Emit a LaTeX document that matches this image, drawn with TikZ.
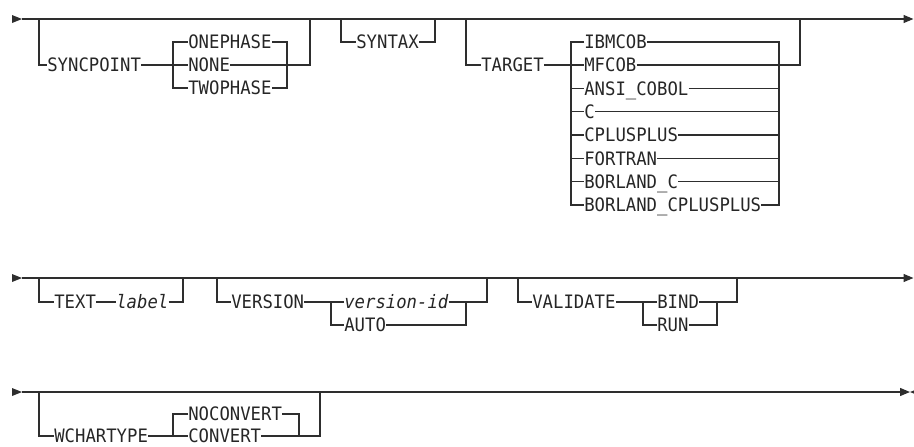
\documentclass[tikz,border=0pt]{standalone}
\usepackage{fontspec}
\newfontfamily\railfont[FakeStretch=0.934]{DejaVu Sans Mono}
\usetikzlibrary{arrows.meta}
\begin{document}
\begin{tikzpicture}[x=1pt,y=-1pt,
  rail/.style={draw=black!82, line width=1.25pt},
  endarrow/.style={rail,-{Triangle[length=10pt,width=8pt]}},
  head/.style={fill=black!82},
  kw/.style={anchor=west, inner sep=0pt, inner xsep=0.3pt, outer sep=0pt,
    text height=13.5pt, text depth=0pt, text=black!85,
    font=\railfont\fontsize{18.5}{20}\selectfont},
  var/.style={kw, font=\railfont\itshape\fontsize{18.5}{20}\selectfont}
]
\clip (0,0) rectangle (914,447);

% ---------------- Row 1 ----------------
\coordinate (r1a) at (22,19);
\coordinate (r1z) at (913.5,19);
\coordinate (j1) at (39,19);
\coordinate (j2) at (310,19);
\coordinate (j3) at (341,19);
\coordinate (j4) at (435,19);
\coordinate (j5) at (466,19);
\coordinate (j6) at (800,19);
\coordinate (spL) at (173,65);
\coordinate (spLb) at (173,88);
\coordinate (spRb) at (287,88);
\coordinate (tgL) at (571,65);
\coordinate (tgLb) at (571,205);
\coordinate (tgRb) at (779,205);

\node[kw] (syncpoint) at (47,65) {SYNCPOINT};
\node[kw] (onephase) at (188,42) {ONEPHASE};
\node[kw] (none) at (188,65) {NONE};
\node[kw] (twophase) at (188,88) {TWOPHASE};
\node[kw] (syntax) at (356,42) {SYNTAX};
\node[kw] (target) at (481,65) {TARGET};
\node[kw] (ibmcob) at (584,42) {IBMCOB};
\node[kw] (mfcob) at (584,65) {MFCOB};
\node[kw] (ansi) at (584,88.3) {ANSI\_COBOL};
\node[kw] (c) at (584,111.6) {C};
\node[kw] (cpp) at (584,135) {CPLUSPLUS};
\node[kw] (fortran) at (584,158.3) {FORTRAN};
\node[kw] (bc) at (584,181.6) {BORLAND\_C};
\node[kw] (bcpp) at (584,205) {BORLAND\_CPLUSPLUS};

\fill[head] (12,15) -- (r1a) -- (12,23) -- cycle;
\draw[endarrow] (r1a) -- (r1z);

\draw[rail] (j1) |- (syncpoint.west);
\draw[rail] (syncpoint.east) -- (spL) -- (none.west);
\draw[rail] (onephase.west) -| (spLb) -- (twophase.west);
\draw[rail] (onephase.east) -| (spRb) -- (twophase.east);
\draw[rail] (none.east) -| (j2);

\draw[rail] (j3) |- (syntax.west);
\draw[rail] (syntax.east) -| (j4);

\draw[rail] (j5) |- (target.west);
\draw[rail] (target.east) -- (tgL) -- (mfcob.west);
\draw[rail] (ibmcob.west) -| (tgLb) -- (bcpp.west);
\draw[rail] (ibmcob.east) -| (tgRb) -- (bcpp.east);
\foreach \n in {ansi,c,cpp,fortran,bc} {
  \draw[rail] (\n.west -| tgL) -- (\n.west);
  \draw[rail] (\n.east) -- (\n.east -| tgRb);
}
\draw[rail] (mfcob.east) -| (j6);

% ---------------- Row 2 ----------------
\coordinate (r2a) at (22,278);
\coordinate (r2z) at (913.5,278);
\coordinate (j7) at (39,278);
\coordinate (j8) at (183,278);
\coordinate (j9) at (217,278);
\coordinate (j10) at (487,278);
\coordinate (j11) at (518,278);
\coordinate (j12) at (737,278);
\coordinate (vL) at (331,302);
\coordinate (vRb) at (466,325);
\coordinate (vaL) at (643,302);
\coordinate (vaRb) at (717,325);

\node[kw] (text) at (54,302) {TEXT};
\node[var] (label) at (116,302) {label};
\node[kw] (version) at (231,302) {VERSION};
\node[var] (vid) at (344,302) {version-id};
\node[kw] (auto) at (344,325) {AUTO};
\node[kw] (validate) at (532,302) {VALIDATE};
\node[kw] (bind) at (657,302) {BIND};
\node[kw] (run) at (657,325) {RUN};

\fill[head] (12,274) -- (r2a) -- (12,282) -- cycle;
\draw[endarrow] (r2a) -- (r2z);

\draw[rail] (j7) |- (text.west);
\draw[rail] (text.east) -- (label.west);
\draw[rail] (label.east) -| (j8);

\draw[rail] (j9) |- (version.west);
\draw[rail] (version.east) -- (vL) -- (vid.west);
\draw[rail] (vL) |- (auto.west);
\draw[rail] (vid.east) -| (j10);
\draw[rail] (auto.east) -| (vid.east -| vRb);

\draw[rail] (j11) |- (validate.west);
\draw[rail] (validate.east) -- (vaL) -- (bind.west);
\draw[rail] (vaL) |- (run.west);
\draw[rail] (bind.east) -| (j12);
\draw[rail] (run.east) -| (bind.east -| vaRb);

% ---------------- Row 3 ----------------
\coordinate (r3a) at (22,392);
\coordinate (r3z) at (910,392);
\coordinate (j13) at (39,392);
\coordinate (j14) at (320,392);
\coordinate (wL) at (173,436);
\coordinate (wR) at (299,436);

\node[kw] (wchartype) at (54,436) {WCHARTYPE};
\node[kw] (noconvert) at (188,414) {NOCONVERT};
\node[kw] (convert) at (188,436) {CONVERT};

\fill[head] (12,388) -- (r3a) -- (12,396) -- cycle;
\draw[endarrow] (r3a) -- (r3z);
\fill[head] (r3z) -- (920,388) -- (920,396) -- cycle;

\draw[rail] (j13) |- (wchartype.west);
\draw[rail] (wchartype.east) -- (wL) -- (convert.west);
\draw[rail] (noconvert.west) -| (wL);
\draw[rail] (noconvert.east) -| (wR);
\draw[rail] (convert.east) -| (j14);
\end{tikzpicture}
\end{document}
